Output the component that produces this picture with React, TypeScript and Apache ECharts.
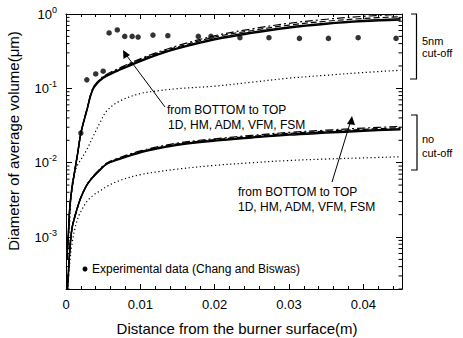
import React, { useEffect, useRef } from "react";
import * as echarts from "echarts";

const FONT = "'Liberation Sans', Arial, sans-serif";
const X_MIN = 0;
const X_MAX = 0.0452;
const Y_MIN = 0.0002;
const Y_MAX = 1;

const xGrid = [0.0001, 0.0003, 0.0005, 0.0008, 0.0012, 0.0016, 0.002, 0.0028, 0.0036, 0.0046, 0.0055, 0.0073, 0.01, 0.0125, 0.015, 0.02, 0.025, 0.03, 0.035, 0.04, 0.045];

// 5nm cut-off group
const cut1D = [0.0005, 0.0009, 0.0016, 0.005, 0.0075, 0.0095, 0.011, 0.015, 0.022, 0.035, 0.05, 0.068, 0.085, 0.093, 0.099, 0.107, 0.121, 0.137, 0.15, 0.163, 0.175];
const cutHM = [0.0005, 0.001, 0.0024, 0.0045, 0.008, 0.014, 0.025, 0.05, 0.095, 0.127, 0.146, 0.177, 0.23, 0.285, 0.34, 0.45, 0.55, 0.65, 0.73, 0.79, 0.83];
const cutADM = [0.0005, 0.001, 0.0024, 0.0045, 0.008, 0.014, 0.025, 0.051, 0.097, 0.13, 0.149, 0.181, 0.237, 0.293, 0.35, 0.465, 0.57, 0.67, 0.75, 0.815, 0.86];
const cutVFM = [0.0005, 0.001, 0.0024, 0.0045, 0.008, 0.014, 0.025, 0.051, 0.099, 0.132, 0.152, 0.185, 0.245, 0.3, 0.36, 0.49, 0.6, 0.71, 0.8, 0.87, 0.92];
const cutFSM = [0.0005, 0.001, 0.0024, 0.0045, 0.008, 0.014, 0.025, 0.052, 0.1, 0.134, 0.155, 0.19, 0.25, 0.31, 0.375, 0.51, 0.63, 0.75, 0.85, 0.93, 0.99];

// no cut-off group
const noc1D = [0.00012, 0.00025, 0.00045, 0.0008, 0.0013, 0.0018, 0.0022, 0.003, 0.0036, 0.0042, 0.0048, 0.0058, 0.0069, 0.0076, 0.0082, 0.0092, 0.01, 0.0107, 0.0112, 0.0116, 0.012];
const nocHM = [0.00015, 0.0003, 0.00065, 0.0013, 0.0019, 0.0026, 0.0034, 0.005, 0.0063, 0.008, 0.0096, 0.0112, 0.0136, 0.0155, 0.0172, 0.0195, 0.0215, 0.0235, 0.025, 0.0265, 0.0278];
const nocADM = [0.00015, 0.0003, 0.00065, 0.0013, 0.0019, 0.0026, 0.0034, 0.005, 0.0064, 0.0081, 0.0097, 0.0114, 0.0139, 0.0158, 0.0176, 0.02, 0.0221, 0.0242, 0.0258, 0.0273, 0.0286];
const nocVFM = [0.00015, 0.0003, 0.00065, 0.0013, 0.0019, 0.0026, 0.0034, 0.005, 0.0064, 0.0082, 0.0098, 0.0116, 0.0141, 0.0161, 0.0179, 0.0204, 0.0226, 0.0248, 0.0265, 0.0281, 0.0295];
const nocFSM = [0.00015, 0.0003, 0.00065, 0.0013, 0.0019, 0.0026, 0.0034, 0.005, 0.0065, 0.0083, 0.0099, 0.0118, 0.0144, 0.0165, 0.0184, 0.021, 0.0233, 0.0256, 0.0274, 0.0292, 0.0308];

// Experimental data (Chang and Biswas)
const expX = [0.002, 0.0028, 0.004, 0.005, 0.0058, 0.0069, 0.0079, 0.0089, 0.0097, 0.0117, 0.0137, 0.0178, 0.0195, 0.0234, 0.0273, 0.0314, 0.0353, 0.0393, 0.0444];
const expY = [0.025, 0.13, 0.156, 0.17, 0.556, 0.61, 0.5, 0.5, 0.49, 0.52, 0.51, 0.5, 0.5, 0.48, 0.48, 0.47, 0.47, 0.48, 0.47];

const xTicks = [0, 0.01, 0.02, 0.03, 0.04];
const yMinorTicks: number[] = [];
[0.0001, 0.001, 0.01, 0.1].forEach((d) => {
  for (let k = 2; k <= 9; k++) {
    const v = d * k;
    if (v >= Y_MIN - 1e-12 && v < Y_MAX) yMinorTicks.push(v);
  }
});

const pair = (ys: number[]) => xGrid.map((x, i) => [x, ys[i]]);

type Style = "solid" | "dotted" | "dashed" | "dashdot";
const lineSeries = (name: string, ys: number[], style: Style) => {
  let type: any = "solid";
  let width = 1.5;
  if (style === "dotted") { type = [1.2, 2.6]; width = 1.2; }
  if (style === "dashed") { type = [6, 3]; width = 1.2; }
  if (style === "dashdot") { type = [8, 3, 2, 3]; width = 1.2; }
  return {
    name,
    type: "line",
    data: pair(ys),
    smooth: 0.35,
    showSymbol: false,
    symbol: "none",
    lineStyle: { color: "#000", width, type },
    z: 3,
  };
};

export default function App() {
  const ref = useRef<HTMLDivElement>(null);
  useEffect(() => {
    if (!ref.current) return;
    const chart = echarts.init(ref.current, undefined, { renderer: "svg" });
    const xLabel = (v: number) => {
      if (!xTicks.some((t) => Math.abs(t - v) < 1e-9)) return "";
      return v === 0 ? "0" : v.toFixed(2);
    };
    const yLabel = (v: number) => {
      const l = Math.log10(v);
      const e = Math.round(l);
      if (Math.abs(l - e) > 1e-6) return "";
      return `{b|10}{s|${e}}`;
    };
    const axisLine = { show: true, onZero: false, lineStyle: { color: "#000", width: 1 } };
    chart.setOption({
      animation: false,
      backgroundColor: "#fff",
      grid: { left: 66, right: 61, top: 14, bottom: 49, containLabel: false, outerBoundsMode: "none" },
      xAxis: [
        {
          type: "value", min: X_MIN, max: X_MAX, interval: 0.01,
          axisLine,
          axisTick: { inside: true, length: 5, lineStyle: { color: "#000" } },
          minorTick: { show: true, splitNumber: 5, length: 3, lineStyle: { color: "#000" } },
          splitLine: { show: false },
          axisLabel: { formatter: xLabel, color: "#000", fontFamily: FONT, fontSize: 13, margin: 9, showMaxLabel: false },
        },
        {
          type: "value", min: X_MIN, max: X_MAX, interval: 0.01, position: "top",
          axisLine,
          axisTick: { inside: true, length: 5, lineStyle: { color: "#000" } },
          minorTick: { show: true, splitNumber: 5, length: 3, lineStyle: { color: "#000" } },
          splitLine: { show: false },
          axisLabel: { show: false },
        },
      ],
      yAxis: [
        {
          type: "log", logBase: 10, min: Y_MIN, max: Y_MAX,
          axisLine,
          axisTick: { inside: true, length: 6, lineStyle: { color: "#000" } },
          splitLine: { show: false },
          axisLabel: {
            formatter: yLabel, color: "#000", fontFamily: FONT, margin: 9,
            rich: {
              b: { fontSize: 13, fontFamily: FONT, color: "#000" },
              s: { fontSize: 9, fontFamily: FONT, color: "#000", padding: [0, 0, 9, 0] },
            },
          },
        },
        {
          type: "log", logBase: 10, min: Y_MIN, max: Y_MAX, position: "right",
          axisLine,
          axisTick: { inside: true, length: 6, lineStyle: { color: "#000" } },
          splitLine: { show: false },
          axisLabel: { show: false },
        },
      ],
      series: [
        lineSeries("1D (5nm)", cut1D, "dotted"),
        lineSeries("HM (5nm)", cutHM, "solid"),
        lineSeries("ADM (5nm)", cutADM, "solid"),
        lineSeries("VFM (5nm)", cutVFM, "dashed"),
        lineSeries("FSM (5nm)", cutFSM, "dashdot"),
        lineSeries("1D", noc1D, "dotted"),
        lineSeries("HM", nocHM, "solid"),
        lineSeries("ADM", nocADM, "solid"),
        lineSeries("VFM", nocVFM, "dashed"),
        lineSeries("FSM", nocFSM, "dashdot"),
        {
          name: "Experimental data (Chang and Biswas)",
          type: "scatter",
          data: expX.map((x, i) => [x, expY[i]]),
          symbol: "circle",
          symbolSize: 5.5,
          itemStyle: { color: "#000" },
          z: 5,
        },
        {
          name: "minor y ticks",
          type: "custom",
          data: yMinorTicks.map((v) => [X_MIN, v]),
          clip: false,
          silent: true,
          renderItem: (params: any, api: any) => {
            const v = api.value(1);
            const l = api.coord([X_MIN, v]);
            const r = api.coord([X_MAX, v]);
            return {
              type: "group",
              children: [
                { type: "line", shape: { x1: l[0], y1: l[1], x2: l[0] + 3.5, y2: l[1] }, style: { stroke: "#000", lineWidth: 1 } },
                { type: "line", shape: { x1: r[0], y1: r[1], x2: r[0] - 3.5, y2: r[1] }, style: { stroke: "#000", lineWidth: 1 } },
              ],
            };
          },
          z: 4,
        },
      ],
      graphic: [
        // axis titles
        {
          type: "text", x: 13, y: 141, rotation: Math.PI / 2,
          style: { text: "Diameter of average volume(\u03bcm)", font: `15px ${FONT}`, fill: "#000", align: "center", verticalAlign: "middle" },
        },
        {
          type: "text", x: 237, y: 328,
          style: { text: "Distance from the burner surface(m)", font: `15px ${FONT}`, fill: "#000", align: "center", verticalAlign: "middle" },
        },
        // arrow 1
        { type: "line", shape: { x1: 165, y1: 107, x2: 124, y2: 52 }, style: { stroke: "#000", lineWidth: 1 } },
        { type: "polygon", shape: { points: [[123, 50], [123.5, 59], [130, 55]] }, style: { fill: "#000" } },
        { type: "text", left: 167, top: 104, style: { text: "from BOTTOM to TOP", font: `12px ${FONT}`, fill: "#000" } },
        { type: "text", left: 168, top: 119, style: { text: "1D, HM, ADM, VFM, FSM", font: `12px ${FONT}`, fill: "#000" } },
        // arrow 2
        { type: "line", shape: { x1: 332, y1: 182, x2: 351, y2: 120 }, style: { stroke: "#000", lineWidth: 1 } },
        { type: "polygon", shape: { points: [[352, 116], [347, 124], [355, 125]] }, style: { fill: "#000" } },
        { type: "text", left: 238, top: 186, style: { text: "from BOTTOM to TOP", font: `12px ${FONT}`, fill: "#000" } },
        { type: "text", left: 238, top: 201, style: { text: "1D, HM, ADM, VFM, FSM", font: `12px ${FONT}`, fill: "#000" } },
        // bracket 5nm
        { type: "polyline", shape: { points: [[411, 14], [416.5, 14], [416.5, 79], [410, 79]] }, style: { stroke: "#000", lineWidth: 1.2, fill: "none" } },
        { type: "text", left: 422, top: 35, style: { text: "5nm", font: `11px ${FONT}`, fill: "#000" } },
        { type: "text", left: 422, top: 47, style: { text: "cut-off", font: `11px ${FONT}`, fill: "#000" } },
        // bracket no cut-off
        { type: "polyline", shape: { points: [[411, 115], [417, 115], [417, 170], [411, 170]] }, style: { stroke: "#000", lineWidth: 1.2, fill: "none" } },
        { type: "text", left: 422, top: 133, style: { text: "no", font: `11px ${FONT}`, fill: "#000" } },
        { type: "text", left: 422, top: 147, style: { text: "cut-off", font: `11px ${FONT}`, fill: "#000" } },
        // legend
        { type: "circle", shape: { cx: 85, cy: 269, r: 2.5 }, style: { fill: "#000" } },
        { type: "text", left: 92, top: 263, style: { text: "Experimental data (Chang and Biswas)", font: `12px ${FONT}`, fill: "#000" } },
      ],
    });
    return () => chart.dispose();
  }, []);
  return <div ref={ref} style={{ position: "fixed", left: 0, top: 0, width: 463, height: 338 }} />;
}
